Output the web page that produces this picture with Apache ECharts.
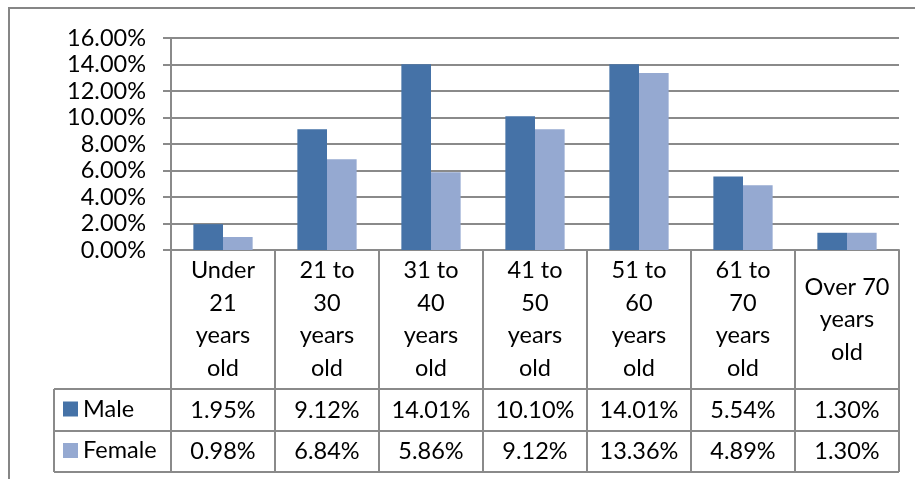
<!DOCTYPE html>
<html>
<head>
<meta charset="utf-8">
<script src="https://cdn.jsdelivr.net/npm/echarts@6/dist/echarts.min.js"></script>
<style>
  html, body { margin: 0; padding: 0; background: #fff; }
  #main { width: 915px; height: 479px; }
</style>
</head>
<body>
<div id="main"></div>
<script>
// data
const categories = ['Under\n21\nyears\nold', '21 to\n30\nyears\nold', '31 to\n40\nyears\nold',
  '41 to\n50\nyears\nold', '51 to\n60\nyears\nold', '61 to\n70\nyears\nold', 'Over 70\nyears\nold'];
const male = [1.95, 9.12, 14.01, 10.10, 14.01, 5.54, 1.30];
const female = [0.98, 6.84, 5.86, 9.12, 13.36, 4.89, 1.30];
const yTicks = { min: 0, max: 16, interval: 2 };

const chart = echarts.init(document.getElementById('main'));

// table geometry (px)
const plotLeft = 171, plotRight = 899, axisY = 250;
const tableLeft = 54, row1 = 389, row2 = 431, row3 = 472;
const lineColor = '#8a8a8a';
const font = 'Lato';
const fs = 23.5;
const pct = v => v.toFixed(2) + '%';

// one extra x axis per table row, labels centred in the row
function rowAxis(values, centerY) {
  return {
    type: 'category',
    position: 'bottom',
    data: values.map(pct),
    axisLine: { show: false },
    axisTick: { show: false },
    axisLabel: {
      interval: 0, margin: centerY - axisY, verticalAlign: 'middle',
      color: '#000', fontFamily: font, fontSize: fs
    }
  };
}

// legend key sitting in the first cell of a table row
function rowLegend(name, centerY) {
  return {
    left: 63, top: centerY - 13, itemWidth: 15, itemHeight: 15, icon: 'rect', padding: 0,
    textStyle: { color: '#000', fontFamily: font, fontSize: fs },
    data: [name]
  };
}

const hLine = y => ({
  type: 'line', silent: true,
  shape: { x1: tableLeft, y1: y, x2: plotRight, y2: y },
  style: { stroke: lineColor, lineWidth: 2 }
});

chart.setOption({
  animation: false,
  grid: { left: plotLeft, right: 915 - plotRight, top: 38, bottom: 479 - axisY },
  legend: [rowLegend('Male', (row1 + row2) / 2), rowLegend('Female', (row2 + row3) / 2)],
  xAxis: [
    {
      type: 'category',
      data: categories,
      axisLine: { lineStyle: { color: lineColor, width: 2 } },
      axisTick: { show: true, length: row3 - axisY, lineStyle: { color: lineColor, width: 2 } },
      axisLabel: {
        interval: 0, margin: (axisY + row1) / 2 - axisY, verticalAlign: 'middle',
        lineHeight: 32.5, color: '#000', fontFamily: font, fontSize: fs
      }
    },
    rowAxis(male, (row1 + row2) / 2),
    rowAxis(female, (row2 + row3) / 2)
  ],
  yAxis: {
    type: 'value',
    min: yTicks.min, max: yTicks.max, interval: yTicks.interval,
    axisLine: { show: true, lineStyle: { color: lineColor, width: 2 } },
    axisTick: { show: true, length: 8, lineStyle: { color: lineColor, width: 2 } },
    splitLine: { lineStyle: { color: lineColor, width: 2 } },
    axisLabel: {
      margin: 25, color: '#000', fontFamily: font, fontSize: fs,
      formatter: v => pct(v)
    }
  },
  series: [
    { name: 'Male', type: 'bar', data: male, barGap: '0%', barCategoryGap: '43%',
      itemStyle: { color: '#4572a7' } },
    { name: 'Female', type: 'bar', data: female,
      itemStyle: { color: '#95a9d1' } }
  ],
  graphic: [
    { type: 'rect', silent: true, shape: { x: 9, y: 8, width: 1000, height: 1000 },
      style: { fill: null, stroke: '#868686', lineWidth: 2 } },
    hLine(row1), hLine(row2), hLine(row3),
    { type: 'line', silent: true, shape: { x1: tableLeft, y1: row1, x2: tableLeft, y2: row3 },
      style: { stroke: lineColor, lineWidth: 2 } }
  ]
});

window.onresize = () => chart.resize();
</script>
</body>
</html>
